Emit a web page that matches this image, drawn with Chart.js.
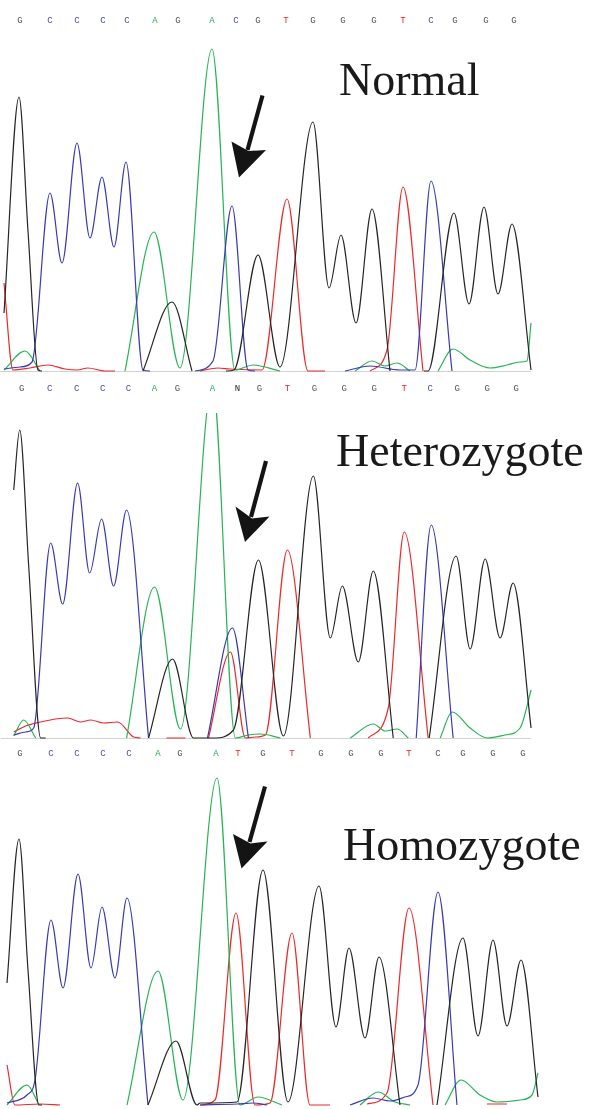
<!DOCTYPE html>
<html><head><meta charset="utf-8">
<script src="https://cdn.jsdelivr.net/npm/chart.js@4/dist/chart.umd.min.js"></script>
<style>
html,body{margin:0;padding:0;background:#fff;}
#wrap{position:relative;width:600px;height:1109px;overflow:hidden;background:#fff;}
canvas{position:absolute;left:0;}
svg{position:absolute;left:0;top:0;}
</style></head><body>
<div id="wrap">
<canvas id="c1" width="600" height="376" style="top:0px"></canvas>
<canvas id="c2" width="600" height="366" style="top:376px"></canvas>
<canvas id="c3" width="600" height="367" style="top:742px"></canvas>
<svg width="600" height="1109" xmlns="http://www.w3.org/2000/svg">
  <g fill="#141414" stroke="none">
    <polygon points="239,177.5 231.5,141.5 248.5,151 266,150"/>
    <polygon points="245,542 235.5,506.5 252,518.5 269.5,516.5"/>
    <polygon points="241.5,868.5 233,834 250.5,843.5 267.5,841.5"/>
  </g>
  <g stroke="#141414" stroke-width="4.2" stroke-linecap="butt">
    <line x1="262.5" y1="95.5" x2="247.5" y2="150"/>
    <line x1="266" y1="461" x2="251" y2="517"/>
    <line x1="265" y1="786.5" x2="249.5" y2="842"/>
  </g>
  <g font-family="'Liberation Serif','Times New Roman',serif" font-size="46" fill="#1a1a1a">
    <text x="339" y="95">Normal</text>
    <text x="336" y="466">Heterozygote</text>
    <text x="343" y="860">Homozygote</text>
  </g>
</svg>
</div>
<script>
// ---- base calls (tick labels) and their positions ----
const seqNormal = ['G','C','C','C','C','A','G','A','C','G','T','G','G','G','T','C','G','G','G'];
const posNormal = [20,50,77,103,127,155,178,212,236,258,286,313,343,374,403,431,455,486,514];
const seqHet = ['G','C','C','C','C','A','G','A','N','G','T','G','G','G','T','C','G','G','G'];
const posHet = [21,49,76,102,128,154,177,212,237,259,287,314,344,374,404,430,457,487,516];
const seqHom = ['G','C','C','C','C','A','G','A','T','G','T','G','G','G','T','C','G','G','G'];
const posHom = [20,51,77,103,129,158,180,216,238,263,292,321,351,381,409,438,463,493,523];

// ---- traces: [scan position, signal] ; null signal = gap ----
const normalG = [[4,58],[19,274],[28,140],[38,1],[42,0],[43,null],[143,0],[172,69],[192,0],[200,null],[226,0],[234,1],[258,116],[280,4],[313,249],[329,83],[341,136],[356,48],[372,162],[390,0],[395,null],[424,0],[428,0],[454,158],[469,67],[484,164],[498,77],[512,147],[531,1]];
const normalC = [[4,2],[20,4],[32,9],[50,178],[62,108],[77,228],[90,133],[102,194],[114,124],[126,209],[143,1],[150,0],[160,null],[195,0],[213,10],[232,165],[248,1],[255,0],[260,null],[345,0],[370,5],[400,1],[415,1],[431,190],[452,0]];
const normalA = [[4,1],[25,20],[40,0],[50,null],[125,0],[154,139],[180,3],[212,322],[235,1],[253,6],[280,0],[300,null],[355,0],[372,10],[385,5],[397,8],[410,0],[420,null],[438,0],[453,22],[470,11],[490,3],[507,6],[520,9],[527,10],[531,48]];
const normalT = [[4,88],[13,1],[30,3],[48,6],[65,2],[77,1],[88,3],[105,0],[115,0],[120,null],[200,0],[218,3],[230,2],[262,1],[287,172],[308,0],[325,0],[330,null],[370,0],[387,21],[403,184],[423,0]];

const hetG = [[13,248],[19,308],[28,172],[40,0],[45,0],[46,null],[148,0],[172,79],[193,0],[213,0],[233,8],[258,178],[283,2],[313,262],[330,100],[342,152],[358,76],[373,167],[393,0],[400,null],[429,0],[456,182],[470,89],[485,179],[500,100],[513,155],[531,10]];
const hetC = [[13,3],[25,6],[33,10],[50,195],[62,134],[77,255],[89,165],[101,219],[113,152],[126,228],[148,0],[160,null],[207,0],[232,110],[248,0],[260,null],[416,0],[431,213],[453,0]];
const hetA = [[13,2],[23,18],[35,0],[40,null],[126,0],[154,151],[180,9],[212,355],[235,0],[248,3],[260,4],[280,0],[300,null],[350,0],[373,14],[385,7],[397,9],[408,0],[420,null],[440,0],[452,26],[470,10],[487,0],[505,3],[520,10],[531,48]];
const hetT = [[13,6],[25,12],[40,16],[55,19],[67,20],[80,16],[90,18],[103,15],[117,16],[133,1],[140,0],[150,null],[166,0],[185,0],[195,null],[208,0],[230,86],[245,0],[255,1],[265,3],[287,188],[310,0],[320,null],[368,0],[388,30],[404,206],[428,0]];

const homG = [[7,122],[19,266],[28,135],[39,0],[42,0],[43,null],[148,0],[176,64],[197,0],[200,2],[237,3],[263,235],[288,3],[319,219],[336,78],[349,157],[365,67],[379,148],[400,0],[410,null],[437,0],[463,167],[478,69],[493,165],[507,79],[521,145],[538,8]];
const homC = [[7,2],[27,10],[35,25],[51,185],[63,117],[78,231],[91,137],[102,198],[115,127],[127,207],[148,0],[160,null],[200,0],[237,1],[253,2],[267,0],[280,null],[350,0],[373,7],[390,4],[405,8],[418,20],[438,213],[457,0]];
const homA = [[7,0],[27,20],[39,0],[45,null],[127,0],[158,134],[183,5],[217,327],[240,0],[258,8],[282,0],[300,null],[360,0],[378,13],[395,3],[410,0],[420,null],[445,0],[461,25],[480,10],[497,3],[520,5],[532,10],[538,32]];
const homT = [[7,40],[15,0],[40,1],[60,0],[70,null],[200,0],[215,5],[236,192],[255,0],[270,2],[292,172],[310,0],[330,0],[340,null],[367,1],[387,12],[409,197],[433,0],[440,null],[487,1],[507,1]];

const TRACE_COLORS = {G:'#262626', C:'#3a3ab6', A:'#27b356', T:'#ec2a2a'};
const LETTER_COLORS = {G:'#555555', C:'#4848c8', A:'#22aa55', T:'#ee2222', N:'#222222'};

const baselinePlugin = {
  id: 'baseline',
  beforeDatasetsDraw(chart, args, opts) {
    if (!opts || opts.to == null) return;
    const {ctx, scales} = chart;
    const py = Math.round(scales.y.getPixelForValue(0)) + 0.5;
    ctx.save();
    ctx.strokeStyle = '#d2d2d2';
    ctx.lineWidth = 1;
    ctx.beginPath();
    ctx.moveTo(scales.x.getPixelForValue(opts.from), py);
    ctx.lineTo(scales.x.getPixelForValue(opts.to), py);
    ctx.stroke();
    ctx.restore();
  }
};

function toData(arr) { return arr.map(p => ({x: p[0], y: p[1]})); }

function panel(id, seq, pos, traces, axisH, pad, ymin, ymax, baseTo) {
  const datasets = ['G','C','A','T'].map(b => ({
    label: b,
    data: toData(traces[b]),
    borderColor: TRACE_COLORS[b],
    borderWidth: 1.2,
    pointRadius: 0,
    cubicInterpolationMode: 'monotone',
    spanGaps: false,
    fill: false
  }));
  return new Chart(document.getElementById(id), {
    type: 'line',
    data: { datasets },
    plugins: [baselinePlugin],
    options: {
      responsive: false,
      animation: false,
      events: [],
      layout: { padding: 0 },
      plugins: {
        legend: { display: false },
        tooltip: { enabled: false },
        baseline: { from: 0, to: baseTo }
      },
      scales: {
        x: {
          type: 'linear', position: 'top', min: 0, max: 600,
          afterBuildTicks: s => { s.ticks = pos.map(v => ({ value: v })); },
          afterFit: s => { s.height = axisH; },
          grid: { display: false, drawTicks: false },
          border: { display: false },
          ticks: {
            autoSkip: false, maxRotation: 0, minRotation: 0, padding: pad,
            font: { family: "'Liberation Mono', 'DejaVu Sans Mono', monospace", size: 9 },
            color: c => LETTER_COLORS[seq[c.index]],
            callback: (v, i) => seq[i]
          }
        },
        y: { display: false, min: ymin, max: ymax }
      }
    }
  });
}

panel('c1', seqNormal, posNormal, {G: normalG, C: normalC, A: normalA, T: normalT}, 30, 4, -5, 341, 531);
panel('c2', seqHet, posHet, {G: hetG, C: hetC, A: hetA, T: hetT}, 37, 19, -4, 325, 531);
panel('c3', seqHom, posHom, {G: homG, C: homC, A: homA, T: homT}, 30, 13, -4, 333, null);
</script>
</body></html>
